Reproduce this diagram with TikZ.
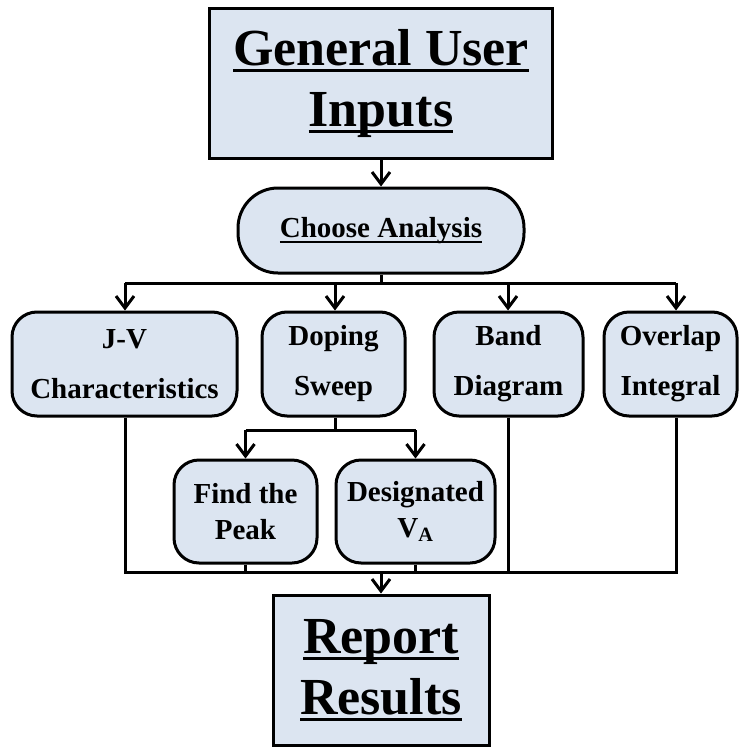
\documentclass[tikz,border=0pt]{standalone}
\usepackage{fontspec}
\setmainfont{Liberation Serif}
\usetikzlibrary{arrows.meta,calc}
\definecolor{boxfill}{HTML}{DCE5F1}
\newcommand\thickul[3]{\setbox0\hbox{#3}\rlap{\rule[-#1]{\wd0}{#2}}\box0}
\tikzset{
  base/.style={draw=black, line width=3pt, fill=boxfill, align=center, inner sep=0pt, font=\bfseries},
  bigbox/.style={base, font=\fontsize{52}{61}\selectfont\bfseries},
  roundbox/.style={base, rounded corners=25pt, font=\fontsize{29}{50}\selectfont\bfseries},
  subbox/.style={base, rounded corners=25pt, font=\fontsize{29}{36}\selectfont\bfseries},
  conn/.style={line width=3pt},
  arr/.style={conn, -{Straight Barb[length=12pt,width=18pt,line width=3pt]}}
}
\begin{document}
\begin{tikzpicture}[x=1pt,y=-1pt]
\useasboundingbox (0,0) rectangle (740,750);
% nodes
\node[bigbox, minimum width=343pt, minimum height=150pt] (top) at (381,83) {\thickul{7pt}{3.5pt}{General User}\\\thickul{7pt}{3.5pt}{Inputs}};
\node[base, rounded corners=40pt, minimum width=286pt, minimum height=85pt, font=\fontsize{29}{36}\selectfont\bfseries] (choose) at (381,230.5) {\thickul{6pt}{2.5pt}{Choose Analysis}};
\node[roundbox, minimum width=225pt, minimum height=104pt] (jv) at (124.5,364) {J-V\\Characteristics};
\node[roundbox, minimum width=143pt, minimum height=104pt] (dop) at (333.5,364) {Doping\\Sweep};
\node[roundbox, minimum width=149pt, minimum height=104pt] (band) at (508.5,364) {Band\\Diagram};
\node[roundbox, minimum width=133pt, minimum height=104pt] (ovl) at (670.5,364) {Overlap\\Integral};
\node[subbox, minimum width=143pt, minimum height=103pt] (find) at (245.5,511.5) {Find the\\Peak};
\node[subbox, minimum width=159pt, minimum height=103pt] (des) at (415.5,511.5) {Designated\\V\textsubscript{A}};
\node[bigbox, minimum width=216pt, minimum height=150pt] (rep) at (381,670) {\thickul{7pt}{3.5pt}{Report}\\\thickul{7pt}{3.5pt}{Results}};
% helper coordinates
\coordinate (bus1) at (381,283);
\coordinate (bus2) at (335,430);
\coordinate (bus3) at (381,572);
\coordinate (jvx) at (125,0);
\coordinate (dopx) at (335,0);
\coordinate (bandx) at (508,0);
\coordinate (ovlx) at (676,0);
% connectors
\draw[arr] (top.south) -- (choose.north);
\draw[conn] (choose.south) -- (bus1);
\draw[conn] (jvx |- bus1) -- (ovlx |- bus1);
\draw[arr] (jvx |- bus1) -- (jvx |- jv.north);
\draw[arr] (dopx |- bus1) -- (dopx |- dop.north);
\draw[arr] (bandx |- bus1) -- (bandx |- band.north);
\draw[arr] (ovlx |- bus1) -- (ovlx |- ovl.north);
\draw[conn] (dopx |- dop.south) -- (dopx |- bus2);
\draw[conn] (find.north |- bus2) -- (des.north |- bus2);
\draw[arr] (find.north |- bus2) -- (find.north);
\draw[arr] (des.north |- bus2) -- (des.north);
\draw[conn] (jvx |- jv.south) -- (jvx |- bus3) -- (ovlx |- bus3) -- (ovlx |- ovl.south);
\draw[conn] (bandx |- band.south) -- (bandx |- bus3);
\draw[conn] (find.south) -- (find.south |- bus3);
\draw[conn] (des.south) -- (des.south |- bus3);
\draw[arr] (bus3) -- (rep.north);
\end{tikzpicture}
\end{document}
